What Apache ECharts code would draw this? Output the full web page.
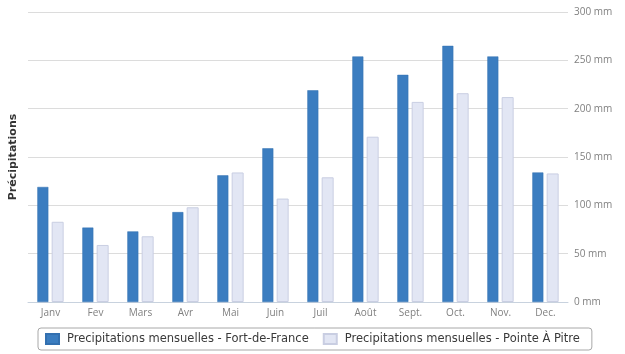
<!DOCTYPE html>
<html>
<head>
<meta charset="utf-8">
<script src="https://cdn.jsdelivr.net/npm/echarts@6/dist/echarts.min.js"></script>
<style>
  html, body { margin: 0; padding: 0; background: #ffffff; }
  #chart { width: 625px; height: 354px; }
</style>
</head>
<body>
<div id="chart"></div>
<script>
// Monthly rainfall (mm)
const months = ['Janv', 'Fev', 'Mars', 'Avr', 'Mai', 'Juin', 'Juil', 'Août', 'Sept.', 'Oct.', 'Nov.', 'Dec.'];
const fortDeFrance = [119, 77, 73, 93, 131, 159, 219, 254, 235, 265, 254, 134];
const pointeAPitre = [83, 59, 68, 98, 134, 107, 129, 171, 207, 216, 212, 133];
const seriesNames = ['Precipitations mensuelles - Fort-de-France', 'Precipitations mensuelles - Pointe À Pitre'];
const yTicks = { min: 0, max: 300, interval: 50 };

const chart = echarts.init(document.getElementById('chart'), null, { renderer: 'canvas' });

const labelFont = { color: '#808080', fontSize: 10, fontFamily: 'Open Sans, DejaVu Sans, sans-serif' };

chart.setOption({
  animation: false,
  backgroundColor: '#ffffff',
  grid: { left: 27, right: 57, top: 12, bottom: 52, containLabel: false },
  legend: {
    left: 38,
    bottom: 4,
    padding: [5, 12, 5, 7],
    borderColor: '#a8a8a8',
    borderWidth: 1,
    borderRadius: 3,
    itemWidth: 13,
    itemHeight: 10,
    itemGap: 14,
    icon: 'rect',
    textStyle: { color: '#3a3a3a', fontSize: 11.5, fontFamily: 'DejaVu Sans, sans-serif', padding: [0, 0, 0, 3] },
    data: seriesNames
  },
  xAxis: {
    type: 'category',
    data: months,
    axisLine: { lineStyle: { color: '#c8d2de', width: 1 } },
    axisTick: { show: false },
    axisLabel: Object.assign({ margin: 6 }, labelFont)
  },
  yAxis: [
    {
      type: 'value',
      position: 'right',
      min: yTicks.min,
      max: yTicks.max,
      interval: yTicks.interval,
      axisLine: { show: false },
      axisTick: { show: false },
      splitLine: { lineStyle: { color: '#dcdcdc', width: 1 } },
      axisLabel: Object.assign({ margin: 6, formatter: '{value} mm' }, labelFont)
    },
    {
      type: 'value',
      position: 'left',
      min: yTicks.min,
      max: yTicks.max,
      interval: yTicks.interval,
      name: 'Précipitations',
      nameLocation: 'middle',
      nameRotate: 90,
      nameGap: 9,
      nameTextStyle: { color: '#333333', fontSize: 11, fontWeight: 'bold', fontFamily: 'DejaVu Sans, sans-serif' },
      axisLine: { show: false },
      axisTick: { show: false },
      axisLabel: { show: false },
      splitLine: { show: false }
    }
  ],
  series: [
    {
      name: seriesNames[0],
      type: 'bar',
      yAxisIndex: 0,
      data: fortDeFrance,
      barWidth: 11,
      barGap: '30%',
      itemStyle: { color: '#3b7dc0', borderColor: '#3370b0', borderWidth: 0.5 }
    },
    {
      name: seriesNames[1],
      type: 'bar',
      yAxisIndex: 0,
      data: pointeAPitre,
      barWidth: 12,
      itemStyle: { color: '#e2e6f4', borderColor: '#c9cee2', borderWidth: 1 }
    }
  ]
});
</script>
</body>
</html>
